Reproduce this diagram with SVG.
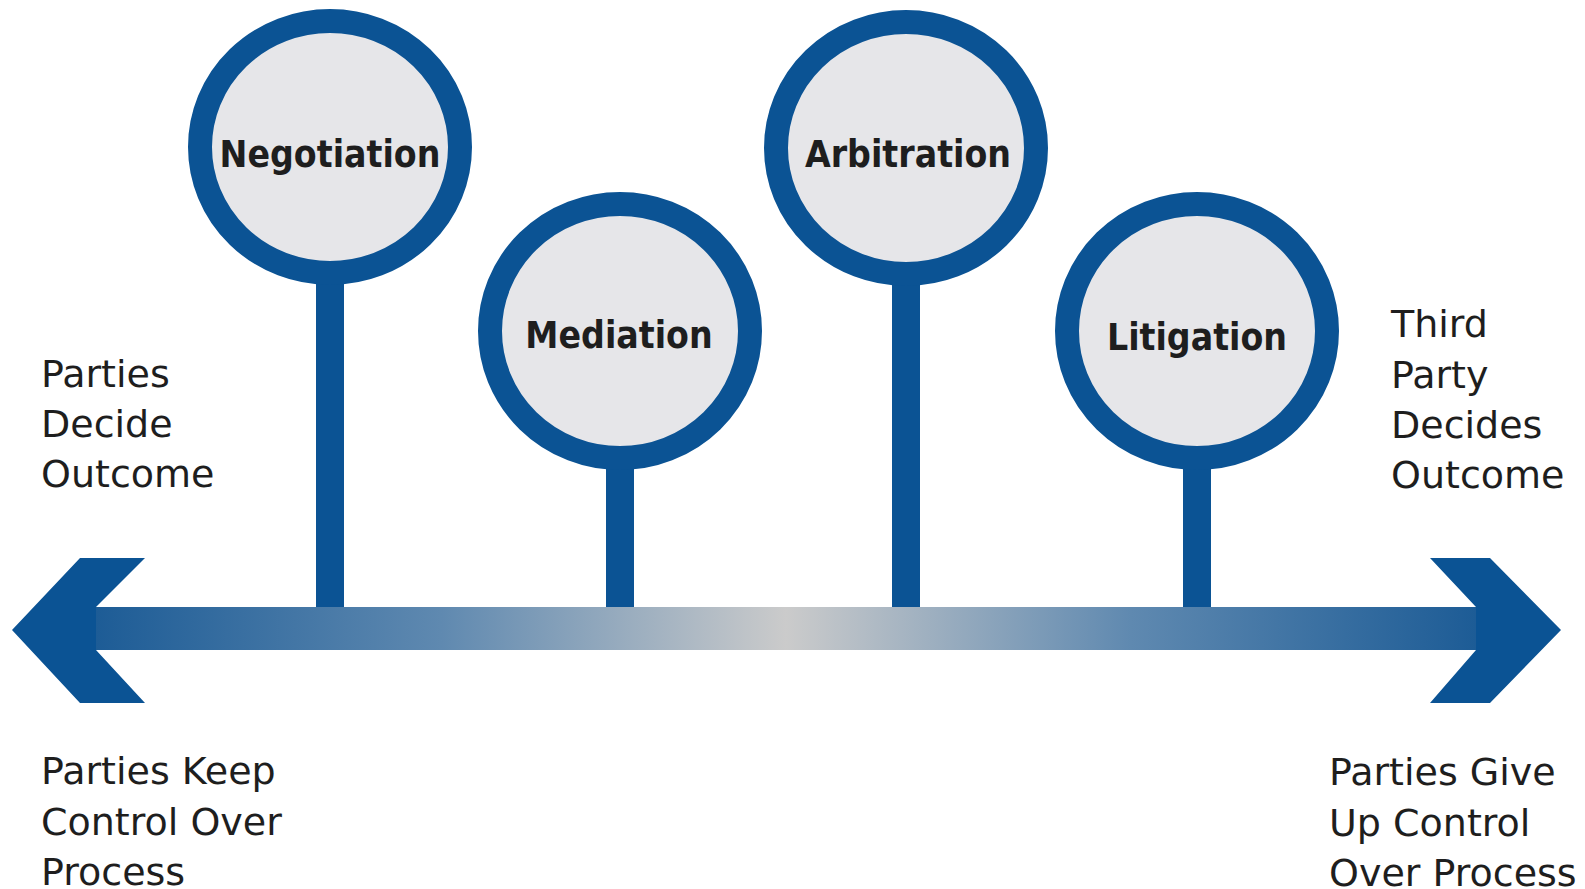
<svg xmlns="http://www.w3.org/2000/svg" width="1585" height="889" viewBox="0 0 1585 889">
<defs>
<linearGradient id="barGrad" gradientUnits="userSpaceOnUse" x1="96" y1="0" x2="1476" y2="0">
<stop offset="0" stop-color="#1d5c96"/>
<stop offset="0.25" stop-color="#5f89b0"/>
<stop offset="0.5" stop-color="#cbcbcb"/>
<stop offset="0.75" stop-color="#5f89b0"/>
<stop offset="1" stop-color="#1d5c96"/>
</linearGradient>
</defs>
<style>
.ring{fill:#e6e6e9;stroke:#0b5394;stroke-width:24}
.stem{fill:#0b5394}
.head{fill:#0b5394}
.lbl{font-family:"DejaVu Sans Condensed","DejaVu Sans",sans-serif;font-stretch:condensed;font-weight:bold;font-size:37px;fill:#1e1e1e;text-anchor:middle}
.txt{font-family:"DejaVu Sans","Liberation Sans",sans-serif;font-size:38px;fill:#1e1e1e}
</style>
<rect width="1585" height="889" fill="#ffffff"/>
<g id="connectors">
<rect class="stem" x="316" y="200" width="28" height="410"/>
<rect class="stem" x="606" y="380" width="28" height="230"/>
<rect class="stem" x="892" y="200" width="28" height="410"/>
<rect class="stem" x="1183" y="380" width="28" height="230"/>
</g>
<g id="axis">
<rect x="94" y="607" width="1384" height="43" fill="url(#barGrad)"/>
<polygon class="head" points="80,558 145,558 96,607 96,650 145,703 80,703 12,630"/>
<polygon class="head" points="1490,558 1430,558 1476,607 1476,650 1430,703 1490,703 1561,630"/>
</g>
<g id="negotiation">
<ellipse class="ring" cx="330" cy="147" rx="130" ry="126"/>
<text class="lbl" x="330" y="167">Negotiation</text>
</g>
<g id="mediation">
<ellipse class="ring" cx="620" cy="331" rx="130" ry="127"/>
<text class="lbl" x="619" y="348">Mediation</text>
</g>
<g id="arbitration">
<ellipse class="ring" cx="906" cy="148" rx="130" ry="126"/>
<text class="lbl" x="908" y="167">Arbitration</text>
</g>
<g id="litigation">
<ellipse class="ring" cx="1197" cy="331" rx="130" ry="127"/>
<text class="lbl" x="1197" y="350">Litigation</text>
</g>
<g id="left-top-text">
<text class="txt" x="41" y="387">Parties</text>
<text class="txt" x="41" y="437">Decide</text>
<text class="txt" x="41" y="487">Outcome</text>
</g>
<g id="right-top-text">
<text class="txt" x="1391" y="337">Third</text>
<text class="txt" x="1391" y="388">Party</text>
<text class="txt" x="1391" y="438">Decides</text>
<text class="txt" x="1391" y="488">Outcome</text>
</g>
<g id="left-bottom-text">
<text class="txt" x="41" y="784">Parties Keep</text>
<text class="txt" x="41" y="835">Control Over</text>
<text class="txt" x="41" y="885">Process</text>
</g>
<g id="right-bottom-text">
<text class="txt" x="1329" y="785">Parties Give</text>
<text class="txt" x="1329" y="836">Up Control</text>
<text class="txt" x="1329" y="886">Over Process</text>
</g>
</svg>
